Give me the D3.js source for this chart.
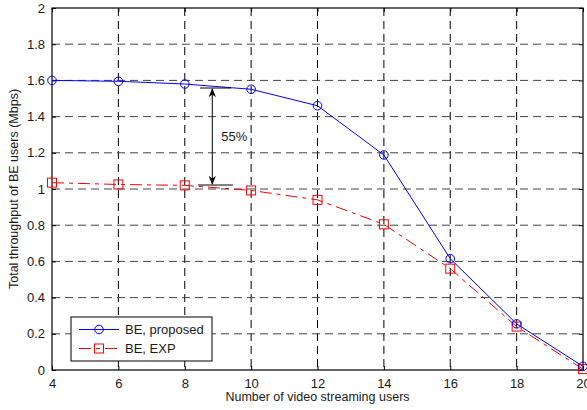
<!DOCTYPE html>
<html>
<head>
<meta charset="utf-8">
<title>Total throughput of BE users</title>
<script src="https://d3js.org/d3.v7.min.js"></script>
<style>
    body { margin: 0; background: #fff; }
    text { font-family: "Liberation Sans", Arial, sans-serif; fill: #1a1a1a; }
</style>
</head>
<body>
<div id="chart"></div>
<script>
    // data
    const users = [4, 6, 8, 10, 12, 14, 16, 18, 20];
    const proposed = [1.60, 1.595, 1.58, 1.551, 1.460, 1.188, 0.615, 0.255, 0.02];
    const exp = [1.035, 1.025, 1.02, 0.992, 0.940, 0.805, 0.56, 0.24, 0.005];
    const xTicks = [4, 6, 8, 10, 12, 14, 16, 18, 20];
    const yTicks = [0, 0.2, 0.4, 0.6, 0.8, 1, 1.2, 1.4, 1.6, 1.8, 2];
    const seriesNames = ["BE, proposed", "BE, EXP"];
    // 55% gap annotation (data units)
    const gapTop = 1.558, gapBottom = 1.022;
    const gapX = [8.46, 9.4], gapXLow = [8.4, 9.45], arrowX = 8.83;
    const gapLabel = "55%";

    const width = 587, height = 410;
    const margin = { top: 8, right: 4, bottom: 40, left: 52 };

    const x = d3.scaleLinear()
        .domain([4, 20])
        .range([margin.left, width - margin.right]);

    const y = d3.scaleLinear()
        .domain([0, 2])
        .range([height - margin.bottom, margin.top]);

    const svg = d3.select("#chart")
        .append("svg")
        .attr("width", width)
        .attr("height", height);

    svg.append("defs").append("marker")
        .attr("id", "arrow")
        .attr("viewBox", "0 0 10 10")
        .attr("refX", 9).attr("refY", 5)
        .attr("markerWidth", 9).attr("markerHeight", 9)
        .attr("orient", "auto-start-reverse")
        .attr("markerUnits", "userSpaceOnUse")
        .append("path")
        .attr("d", "M0,1 L10,5 L0,9 L3,5 Z")
        .attr("fill", "#000");

    // grid
    svg.append("g")
        .selectAll("line")
        .data(xTicks.slice(1, -1))
        .join("line")
        .attr("x1", d => x(d)).attr("x2", d => x(d))
        .attr("y1", y(2)).attr("y2", y(0))
        .attr("stroke", "#000")
        .attr("stroke-width", 1)
        .attr("stroke-dasharray", "8,5");

    svg.append("g")
        .selectAll("line")
        .data(yTicks.slice(1, -1))
        .join("line")
        .attr("x1", x(4)).attr("x2", x(20))
        .attr("y1", d => y(d)).attr("y2", d => y(d))
        .attr("stroke", "#444")
        .attr("stroke-width", 1)
        .attr("stroke-dasharray", "8,5");

    // axes (MATLAB style, inward ticks)
    svg.append("g")
        .attr("transform", `translate(0,${y(0)})`)
        .call(d3.axisBottom(x).tickValues(xTicks).tickSizeInner(-4).tickSizeOuter(0).tickPadding(9).tickFormat(d3.format("d")))
        .call(g => g.select(".domain").remove())
        .call(g => g.selectAll("text").style("font-size", "13px").attr("fill", "#1a1a1a"));

    svg.append("g")
        .attr("transform", `translate(0,${y(2)})`)
        .call(d3.axisTop(x).tickValues(xTicks).tickSizeInner(-4).tickSizeOuter(0).tickFormat(""))
        .call(g => g.select(".domain").remove());

    svg.append("g")
        .attr("transform", `translate(${x(4)},0)`)
        .call(d3.axisLeft(y).tickValues(yTicks).tickSizeInner(-4).tickSizeOuter(0).tickPadding(7).tickFormat(d => d3.format("")(d)))
        .call(g => g.select(".domain").remove())
        .call(g => g.selectAll("text").style("font-size", "13px").attr("fill", "#1a1a1a"));

    svg.append("g")
        .attr("transform", `translate(${x(20)},0)`)
        .call(d3.axisRight(y).tickValues(yTicks).tickSizeInner(-4).tickSizeOuter(0).tickFormat(""))
        .call(g => g.select(".domain").remove());

    svg.append("rect")
        .attr("x", x(4)).attr("y", y(2))
        .attr("width", x(20) - x(4)).attr("height", y(0) - y(2))
        .attr("fill", "none")
        .attr("stroke", "#000")
        .attr("stroke-width", 1.2);

    // lines
    const line = d3.line()
        .x((d, i) => x(users[i]))
        .y(d => y(d));

    svg.append("path")
        .datum(exp)
        .attr("fill", "none")
        .attr("stroke", "#ff0000")
        .attr("stroke-width", 1)
        .attr("stroke-dasharray", "12,5,4,5")
        .attr("d", line);

    svg.append("path")
        .datum(proposed)
        .attr("fill", "none")
        .attr("stroke", "#0000ff")
        .attr("stroke-width", 1)
        .attr("d", line);

    svg.append("g")
        .selectAll("rect")
        .data(exp)
        .join("rect")
        .attr("x", (d, i) => x(users[i]) - 4.5)
        .attr("y", d => y(d) - 4.5)
        .attr("width", 9).attr("height", 9)
        .attr("fill", "none")
        .attr("stroke", "#ff0000")
        .attr("stroke-width", 1);

    svg.append("g")
        .selectAll("circle")
        .data(proposed)
        .join("circle")
        .attr("cx", (d, i) => x(users[i]))
        .attr("cy", d => y(d))
        .attr("r", 4.3)
        .attr("fill", "none")
        .attr("stroke", "#0000ff")
        .attr("stroke-width", 1);

    // annotation
    svg.append("line")
        .attr("x1", x(gapX[0])).attr("x2", x(gapX[1]))
        .attr("y1", y(gapTop)).attr("y2", y(gapTop))
        .attr("stroke", "#000");
    svg.append("line")
        .attr("x1", x(gapXLow[0])).attr("x2", x(gapXLow[1]))
        .attr("y1", y(gapBottom)).attr("y2", y(gapBottom))
        .attr("stroke", "#000");
    svg.append("line")
        .attr("x1", x(arrowX)).attr("x2", x(arrowX))
        .attr("y1", y(gapTop) + 1).attr("y2", y(gapBottom) - 1)
        .attr("stroke", "#000")
        .attr("marker-start", "url(#arrow)")
        .attr("marker-end", "url(#arrow)");
    svg.append("text")
        .attr("x", x(arrowX) + 9)
        .attr("y", y((gapTop + gapBottom) / 2) + 4)
        .style("font-size", "13px")
        .text(gapLabel);

    // axis titles
    svg.append("text")
        .attr("x", x(12))
        .attr("y", 401)
        .attr("text-anchor", "middle")
        .style("font-size", "12.5px")
        .text("Number of video streaming users");

    svg.append("text")
        .attr("transform", `translate(18,${y(1)}) rotate(-90)`)
        .attr("text-anchor", "middle")
        .style("font-size", "12.5px")
        .text("Total throughput of BE users (Mbps)");

    // legend
    const legend = svg.append("g").attr("transform", "translate(71,317)");
    legend.append("rect")
        .attr("width", 141).attr("height", 44)
        .attr("fill", "#fff")
        .attr("stroke", "#000")
        .attr("stroke-width", 1);

    const colors = ["#0000ff", "#ff0000"];
    const dashes = [null, "12,5,4,5"];
    seriesNames.forEach((name, i) => {
        const ly = 12.5 + i * 19;
        legend.append("line")
            .attr("x1", 8).attr("x2", 48)
            .attr("y1", ly).attr("y2", ly)
            .attr("stroke", colors[i])
            .attr("stroke-dasharray", dashes[i]);
        if (i === 0) {
            legend.append("circle")
                .attr("cx", 28).attr("cy", ly).attr("r", 4.3)
                .attr("fill", "none").attr("stroke", colors[i]);
        } else {
            legend.append("rect")
                .attr("x", 23.5).attr("y", ly - 4.5)
                .attr("width", 9).attr("height", 9)
                .attr("fill", "none").attr("stroke", colors[i]);
        }
        legend.append("text")
            .attr("x", 54).attr("y", ly + 4.5)
            .style("font-size", "13px")
            .text(name);
    });
</script>
</body>
</html>
